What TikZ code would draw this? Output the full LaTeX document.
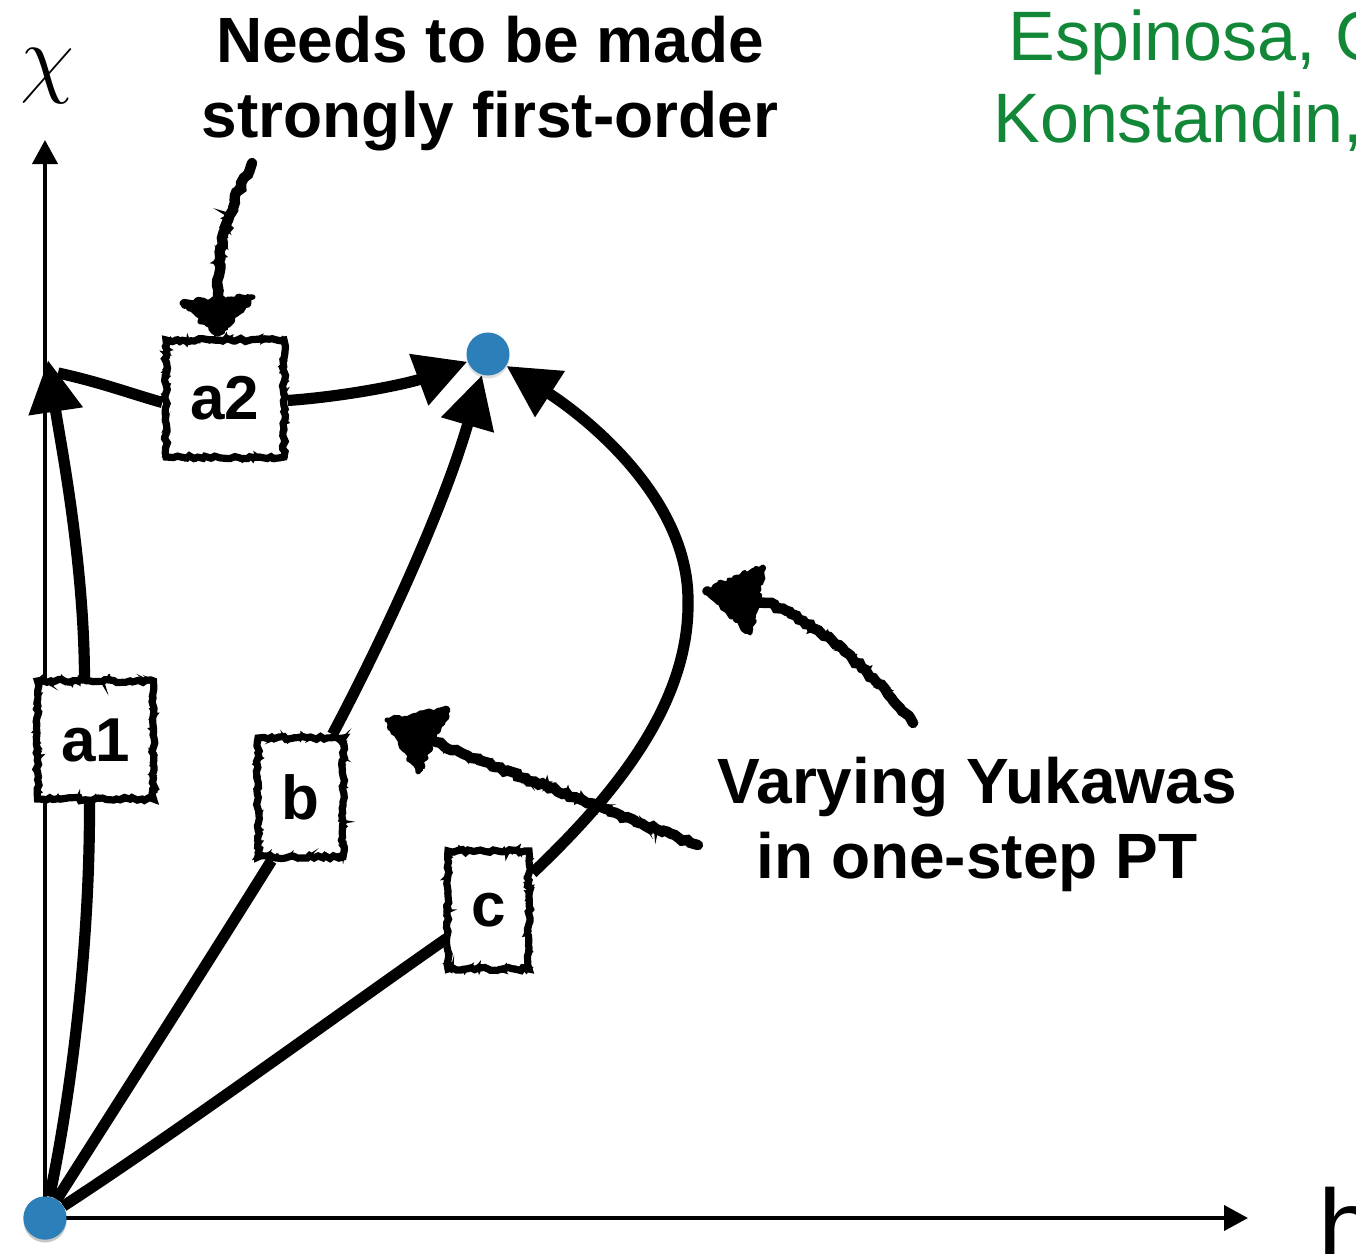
\RequirePackage{fix-cm}
\documentclass[tikz,border=0pt]{standalone}
\usepackage{fontspec}
\setmainfont{Liberation Sans}
\usetikzlibrary{arrows.meta,decorations.pathmorphing,calc,shadows}
\definecolor{dotblue}{RGB}{44,127,184}
\definecolor{refgreen}{RGB}{17,135,55}
\begin{document}
\begin{tikzpicture}[x=0.5pt,y=-0.5pt,
  main/.style={line width=5.6pt},
  tip/.style={-{Triangle[length=26pt,width=26pt]}},
  axis/.style={line width=2pt,-{Triangle[length=12pt,width=12.5pt]}},
  dot/.style={circle,fill=dotblue,minimum size=21.5pt,inner sep=0pt,
    drop shadow={shadow xshift=0pt,shadow yshift=-1.5pt,opacity=0.25}},
  box/.style={fill=white,draw,line width=3.6pt,inner sep=0pt,
    font=\fontsize{31}{31}\selectfont\bfseries,
    decorate,decoration={random steps,segment length=2pt,amplitude=0.8pt},
    postaction={draw,line width=1.4pt,decorate,
      decoration={random steps,segment length=1.2pt,amplitude=1.8pt}}},
  lbl/.style={font=\fontsize{32}{37.5}\selectfont\bfseries,align=center,inner sep=0pt},
  green/.style={font=\fontsize{35}{35}\selectfont,text=refgreen,anchor=base west,inner sep=0pt},
  chalk/.style={line width=5.2pt,line cap=round,decorate,
    decoration={random steps,segment length=2pt,amplitude=0.9pt},
    postaction={draw,line width=1.8pt,decorate,
      decoration={random steps,segment length=1.2pt,amplitude=2.2pt}}},
  chalkhead/.style={fill,draw,line width=2.5pt,line join=round,decorate,
    decoration={random steps,segment length=1.5pt,amplitude=1.2pt}}
]
\useasboundingbox (0,0) rectangle (1356,1254);
\clip (0,0) rectangle (1356,1254);

% dots
\node[dot] (o) at (45,1218) {};
\node[dot] (t) at (488,354) {};

% coordinates
\coordinate (ytop) at (45,140);
\coordinate (xend) at (1248,1218);
\coordinate (chipt) at (48,360);
\coordinate (a2start) at (58,373);

% axes
\draw[axis] (o.center) -- (ytop);
\draw[axis] (o.center) -- (xend);
\node[dot] at (o) {};

% boxes
\node[box,minimum width=58pt,minimum height=59pt] (a1) at (95.5,740) {a1};
\node[box,minimum width=59pt,minimum height=58.5pt] (a2) at (225,398.5) {a2};
\node[box,minimum width=42.5pt,minimum height=59.5pt] (b) at (300.5,797.5) {b};
\node[box,minimum width=40.5pt,minimum height=59pt] (c) at (488.5,910) {c};

% paths a1
\draw[main] (o) .. controls (70,1100) and (90,950) .. ($(a1.south)+(-6,0)$);
\draw[main,tip] ($(a1.north)+(-11,0)$) .. controls (84,560) and (60,440) .. (chipt);
% paths a2
\draw[main] (a2start) .. controls (100,382) and (135,395) .. ($(a2.west)+(0,4)$);
\draw[main,tip] ($(a2.east)+(0,2)$) .. controls (350,396) and (410,383) .. (t);
% paths b
\draw[main] (o) .. controls (120,1100) and (200,975) .. ($(b.south)+(-29,0)$);
\draw[main,tip] ($(b.north)+(32,0)$) .. controls (372,660) and (440,520) .. (t);
% paths c
\draw[main] (o) .. controls (180,1130) and (330,1020) .. ($(c.south west)+(2,-34)$);
\draw[main,tip] ($(c.east)+(0,-37)$) .. controls (620,790) and (690,700) .. (688,600)
   .. controls (688,500) and (590,420) .. (t);

% labels
\node[font=\fontsize{44}{44}\selectfont,inner sep=0pt] (chi) at (47,76) {$\chi$};
\node[font=\fontsize{52}{52}\selectfont,anchor=base west,inner sep=0pt] (hlab) at (1318,1262) {h};
\node[lbl] (need) at (490,84) {Needs to be made\\strongly first-order};
\node[lbl] (vary) at (977,824) {Varying Yukawas\\in one-step PT};
\node[green] (esp) at (1008,60) {Espinosa, G};
\node[green] (kon) at (993,142) {Konstandin,};

% sketchy annotation arrows
\coordinate (s1) at (252,163);
\coordinate (s2) at (913,723);
\coordinate (s3) at (698,845);
\coordinate (s2tip) at (705,590);
\coordinate (s3tip) at (387,720);
\draw[chalk] (s1) .. controls (232,200) and (217,245) .. (217,302);
\filldraw[chalkhead] (182,303) -- (253,297) -- ($(a2.north)+(-8,-2)$) -- cycle;
\draw[chalk] (s2) .. controls (870,670) and (805,610) .. (756,600);
\filldraw[chalkhead] (s2tip) -- (763,567) -- (750,633) -- cycle;
\draw[chalk] (s3) .. controls (620,815) and (490,765) .. (433,741);
\filldraw[chalkhead] (s3tip) -- (448,710) -- (418,772) -- cycle;
\end{tikzpicture}
\end{document}
